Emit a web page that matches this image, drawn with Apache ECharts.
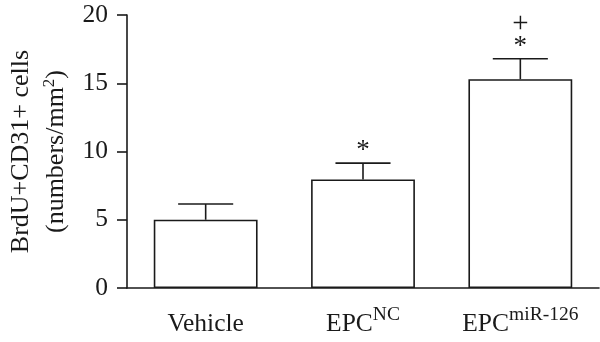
<!DOCTYPE html>
<html>
<head>
<meta charset="utf-8">
<style>
  html, body { margin: 0; padding: 0; background: #fff; }
  #chart { width: 600px; height: 342px; }
</style>
<script src="https://cdn.jsdelivr.net/npm/echarts@6/dist/echarts.min.js"></script>
</head>
<body>
<div id="chart"></div>
<script>
// Group names: base text plus superscript part
const groupNames = ['Vehicle', 'EPC', 'EPC'];
const groupSuperscripts = ['', 'NC', 'miR-126'];
// Mean BrdU+CD31+ cell density and upper error (SEM)
const meanValues = [5.0, 7.95, 15.3];
const errorValues = [1.15, 1.2, 1.5];
// Significance markers above each bar (top to bottom)
const sigMarks = [[], ['*'], ['+', '*']];
// Y axis ticks
const yTicks = [0, 5, 10, 15, 20];

const FONT = 'Liberation Serif';
const INK = '#1a1a1a';

const chart = echarts.init(document.getElementById('chart'), null, { renderer: 'canvas' });

const categoryKeys = groupNames.map((n, i) => String(i));

const option = {
  animation: false,
  backgroundColor: '#fff',
  grid: { left: 125, right: 1, top: 15, bottom: 54 },
  xAxis: {
    type: 'category',
    data: categoryKeys,
    axisLine: { lineStyle: { color: INK, width: 1.6 } },
    axisTick: { alignWithLabel: true, length: 6, lineStyle: { color: INK, width: 1.6 } },
    axisLabel: {
      margin: 19,
      formatter: (v) => {
        const i = Number(v);
        const sup = groupSuperscripts[i];
        return sup ? '{b|' + groupNames[i] + '}{s|' + sup + '}' : '{b|' + groupNames[i] + '}';
      },
      rich: {
        b: { fontFamily: FONT, fontSize: 25.5, color: INK, lineHeight: 30, verticalAlign: 'bottom' },
        s: { fontFamily: FONT, fontSize: 19.5, color: INK, lineHeight: 30, verticalAlign: 'bottom', padding: [0, 0, 12, 0] }
      }
    }
  },
  yAxis: {
    type: 'value',
    min: yTicks[0],
    max: yTicks[yTicks.length - 1],
    interval: yTicks[1] - yTicks[0],
    splitLine: { show: false },
    axisLine: { show: true, lineStyle: { color: INK, width: 1.6 } },
    axisTick: { show: true, length: 10, lineStyle: { color: INK, width: 1.6 } },
    axisLabel: { margin: 19, fontFamily: FONT, fontSize: 25.5, color: INK },
    name: '{t|BrdU+CD31+ cells}\n{t|(numbers/mm}{p|2}{t|)}',
    nameLocation: 'middle',
    nameRotate: 90,
    nameGap: 58,
    nameTextStyle: {
      rich: {
        t: { fontFamily: FONT, fontSize: 26, color: INK, lineHeight: 35, verticalAlign: 'bottom' },
        p: { fontFamily: FONT, fontSize: 17, color: INK, lineHeight: 35, verticalAlign: 'bottom', padding: [0, 0, 11, 0] }
      }
    }
  },
  series: [
    {
      type: 'bar',
      data: meanValues,
      barWidth: '66%',
      itemStyle: { color: '#fff', borderColor: INK, borderWidth: 1.6 },
      z: 2
    },
    {
      type: 'custom',
      data: meanValues.map((m, i) => [i, m, m + errorValues[i]]),
      z: 3,
      renderItem: (params, api) => {
        const i = api.value(0);
        const base = api.coord([i, api.value(1)]);
        const top = api.coord([i, api.value(2)]);
        const half = api.size([1, 0])[0] * 0.175;
        const style = { stroke: INK, lineWidth: 1.6 };
        const children = [
          { type: 'line', shape: { x1: base[0], y1: base[1], x2: top[0], y2: top[1] }, style },
          { type: 'line', shape: { x1: top[0] - half, y1: top[1], x2: top[0] + half, y2: top[1] }, style }
        ];
        const marks = sigMarks[i];
        if (marks.length) {
          children.push({
            type: 'text',
            style: {
              text: marks.map((m) => (m === '+' ? '{p|+}' : '{a|*}')).join('\n'),
              x: top[0],
              y: top[1] - 1,
              align: 'center',
              verticalAlign: 'bottom',
              rich: {
                a: { fontFamily: FONT, fontSize: 27, lineHeight: 22, fill: INK },
                p: { fontFamily: FONT, fontSize: 29, lineHeight: 22, fill: INK }
              }
            }
          });
        }
        return { type: 'group', children };
      }
    }
  ]
};

chart.setOption(option);
</script>
</body>
</html>
